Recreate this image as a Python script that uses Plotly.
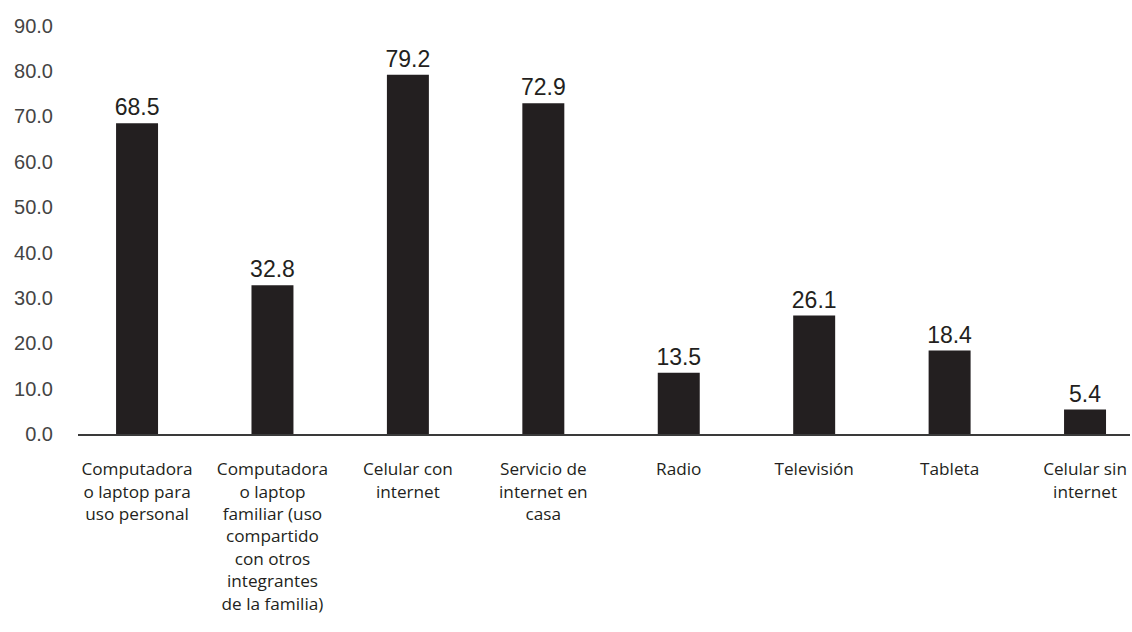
import plotly.graph_objects as go

categories = [
    "Computadora<br>o laptop para<br>uso personal",
    "Computadora<br>o laptop<br>familiar (uso<br>compartido<br>con otros<br>integrantes<br>de la familia)",
    "Celular con<br>internet",
    "Servicio de<br>internet en<br>casa",
    "Radio",
    "Televisión",
    "Tableta",
    "Celular sin<br>internet",
]
values = [68.5, 32.8, 79.2, 72.9, 13.5, 26.1, 18.4, 5.4]
y_ticks = [0, 10, 20, 30, 40, 50, 60, 70, 80, 90]

positions = list(range(len(values)))

fig = go.Figure(
    go.Bar(
        x=positions,
        y=values,
        width=0.31,
        marker=dict(color="#231f20", line=dict(width=0)),
        text=[f"{v:.1f}" for v in values],
        textposition="outside",
        constraintext="none",
        textfont=dict(family="Liberation Sans, Arial, sans-serif", size=23, color="#231f20"),
        cliponaxis=False,
    )
)

fig.update_layout(
    width=1132,
    height=632,
    margin=dict(l=78, r=2, t=22, b=198),
    paper_bgcolor="white",
    plot_bgcolor="white",
    showlegend=False,
    xaxis=dict(
        range=[-0.436, 7.332],
        tickmode="array",
        tickvals=positions,
        ticktext=categories,
        tickfont=dict(family="Open Sans, sans-serif", size=17.2, color="#231f20"),
        showgrid=False,
        zeroline=False,
        showline=True,
        linecolor="#3a3a3a",
        linewidth=1.5,
        ticks="",
        ticklabelstandoff=19,
    ),
    yaxis=dict(
        range=[0, 90.8],
        tickmode="array",
        tickvals=y_ticks,
        ticktext=[f"{t:.1f}" for t in y_ticks],
        tickfont=dict(family="Liberation Sans, Arial, sans-serif", size=20, color="#444444"),
        showgrid=False,
        zeroline=False,
        showline=False,
        ticks="",
        ticklabelstandoff=24,
    ),
)

fig.write_html("out.html")
